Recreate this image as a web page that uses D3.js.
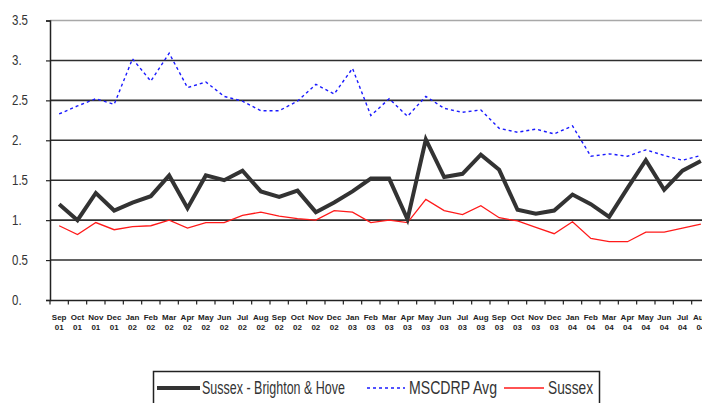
<!DOCTYPE html>
<html lang="en">
  <head>
    <meta charset="UTF-8" />
    <title>Sussex - Brighton &amp; Hove vs MSCDRP Avg</title>
    <script src="https://d3js.org/d3.v7.min.js"></script>
    <style>
      body { margin: 0; background: #fff; }
      svg { display: block; }
      text { font-family: "Liberation Sans", Arial, sans-serif; }
    </style>
  </head>
  <body>
    <svg id="chart" width="702" height="403"></svg>

    <script>
      const months = ["Sep","Oct","Nov","Dec","Jan","Feb","Mar","Apr","May","Jun","Jul","Aug",
        "Sep","Oct","Nov","Dec","Jan","Feb","Mar","Apr","May","Jun","Jul","Aug",
        "Sep","Oct","Nov","Dec","Jan","Feb","Mar","Apr","May","Jun","Jul","Aug"];
      const years = ["01","01","01","01","02","02","02","02","02","02","02","02",
        "02","02","02","02","03","03","03","03","03","03","03","03",
        "03","03","03","03","04","04","04","04","04","04","04","04"];

      const brightonHove = [1.20, 1.00, 1.34, 1.12, 1.22, 1.30, 1.56, 1.15, 1.56, 1.50, 1.62, 1.36,
        1.29, 1.37, 1.10, 1.22, 1.36, 1.52, 1.52, 1.01, 2.01, 1.54, 1.58, 1.82,
        1.63, 1.13, 1.08, 1.12, 1.32, 1.20, 1.04, 1.40, 1.75, 1.38, 1.62, 1.74];
      const mscdrpAvg = [2.33, 2.43, 2.52, 2.45, 3.02, 2.74, 3.09, 2.66, 2.73, 2.55, 2.49, 2.37,
        2.37, 2.49, 2.70, 2.58, 2.90, 2.31, 2.52, 2.30, 2.55, 2.40, 2.35, 2.38,
        2.15, 2.10, 2.14, 2.08, 2.18, 1.80, 1.83, 1.80, 1.88, 1.81, 1.75, 1.81];
      const sussex = [0.93, 0.82, 0.97, 0.88, 0.92, 0.93, 1.00, 0.90, 0.97, 0.97, 1.06, 1.10,
        1.05, 1.02, 1.00, 1.12, 1.10, 0.97, 1.00, 0.97, 1.26, 1.12, 1.07, 1.18,
        1.03, 0.99, 0.91, 0.83, 0.98, 0.77, 0.73, 0.73, 0.85, 0.85, 0.90, 0.95];
      const yTicks = [0, 0.5, 1, 1.5, 2, 2.5, 3, 3.5];
      const yTickLabels = ["0.", "0.5", "1.", "1.5", "2.", "2.5", "3.", "3.5"];
      const seriesNames = ["Sussex - Brighton & Hove", "MSCDRP Avg", "Sussex"];

      const svg = d3.select("#chart");
      const cats = months.map((m, i) => i);

      const x = d3.scaleBand().domain(cats).range([50, 710]);
      const y = d3.scaleLinear().domain([0, 3.5]).range([300, 20.5]);
      const cx = (i) => x(i) + x.bandwidth() / 2;

      // squeeze text horizontally (narrow font look)
      function narrow(sel, k) {
        sel.each(function () {
          const w = this.getComputedTextLength();
          d3.select(this).attr("textLength", w * k).attr("lengthAdjust", "spacingAndGlyphs");
        });
      }

      // gridlines
      svg.append("g")
        .selectAll("line")
        .data(yTicks.filter((t) => t > 0))
        .enter()
        .append("line")
        .attr("x1", 50)
        .attr("x2", 702)
        .attr("y1", (d) => y(d))
        .attr("y2", (d) => y(d))
        .attr("stroke", (d) => (d === 3.5 ? "#a8a8a8" : "#2e2e2e"))
        .attr("stroke-width", 1.6);

      // y axis
      const yAxis = svg.append("g")
        .attr("transform", "translate(50,0)")
        .call(d3.axisLeft(y).tickValues(yTicks).tickSize(4).tickFormat((d, i) => yTickLabels[i]));
      yAxis.select(".domain").attr("stroke", "#222").attr("stroke-width", 1.5);
      yAxis.selectAll(".tick line").attr("stroke", "#222").attr("stroke-width", 1.2);
      yAxis.selectAll(".tick text")
        .attr("x", -38)
        .attr("text-anchor", "start")
        .attr("font-family", null)
        .attr("font-size", 14)
        .attr("fill", "#333")
        .call(narrow, 0.82);

      // x axis
      const xAxis = svg.append("g")
        .attr("transform", "translate(0,300)")
        .call(d3.axisBottom(x).tickSize(0).tickFormat(""));
      xAxis.select(".domain").attr("stroke", "#222").attr("stroke-width", 1.5);
      xAxis.selectAll(".tick").remove();

      svg.append("g")
        .selectAll("line")
        .data(cats)
        .enter()
        .append("line")
        .attr("x1", (d) => x(d))
        .attr("x2", (d) => x(d))
        .attr("y1", 300)
        .attr("y2", 304.5)
        .attr("stroke", "#222")
        .attr("stroke-width", 1.2);

      const labels = svg.append("g")
        .attr("font-size", 8)
        .attr("font-weight", "bold")
        .attr("fill", "#222")
        .attr("text-anchor", "middle");
      labels.selectAll(".m")
        .data(cats)
        .enter()
        .append("text")
        .attr("x", cx)
        .attr("y", 320)
        .text((d) => months[d]);
      labels.selectAll(".yr")
        .data(cats)
        .enter()
        .append("text")
        .attr("x", cx)
        .attr("y", 329.5)
        .text((d) => years[d]);

      // series
      const line = d3.line()
        .x((d, i) => cx(i))
        .y((d) => y(d));

      svg.append("path")
        .datum(mscdrpAvg)
        .attr("fill", "none")
        .attr("stroke", "#1a1aff")
        .attr("stroke-width", 1.4)
        .attr("stroke-dasharray", "3,3")
        .attr("d", line);

      svg.append("path")
        .datum(sussex)
        .attr("fill", "none")
        .attr("stroke", "#ff1a1a")
        .attr("stroke-width", 1.3)
        .attr("d", line);

      svg.append("path")
        .datum(brightonHove)
        .attr("fill", "none")
        .attr("stroke", "#333")
        .attr("stroke-width", 4)
        .attr("stroke-linejoin", "miter")
        .attr("d", line);

      // legend
      const legend = svg.append("g");
      legend.append("rect")
        .attr("x", 153.5)
        .attr("y", 371.5)
        .attr("width", 446)
        .attr("height", 40)
        .attr("fill", "#fff")
        .attr("stroke", "#222")
        .attr("stroke-width", 1.5);

      const items = [
        { color: "#333", w: 4, dash: null, x0: 157, x1: 200, tx: 202, tw: 143 },
        { color: "#1a1aff", w: 1.4, dash: "3,3", x0: 367, x1: 405, tx: 409, tw: 88 },
        { color: "#ff1a1a", w: 1.5, dash: null, x0: 504, x1: 544, tx: 548, tw: 45 },
      ];
      items.forEach((it, i) => {
        legend.append("line")
          .attr("x1", it.x0)
          .attr("x2", it.x1)
          .attr("y1", 388)
          .attr("y2", 388)
          .attr("stroke", it.color)
          .attr("stroke-width", it.w)
          .attr("stroke-dasharray", it.dash);
        legend.append("text")
          .attr("x", it.tx)
          .attr("y", 394)
          .attr("font-size", 18)
          .attr("fill", "#333")
          .attr("textLength", it.tw)
          .attr("lengthAdjust", "spacingAndGlyphs")
          .text(seriesNames[i]);
      });
    </script>
  </body>
</html>
